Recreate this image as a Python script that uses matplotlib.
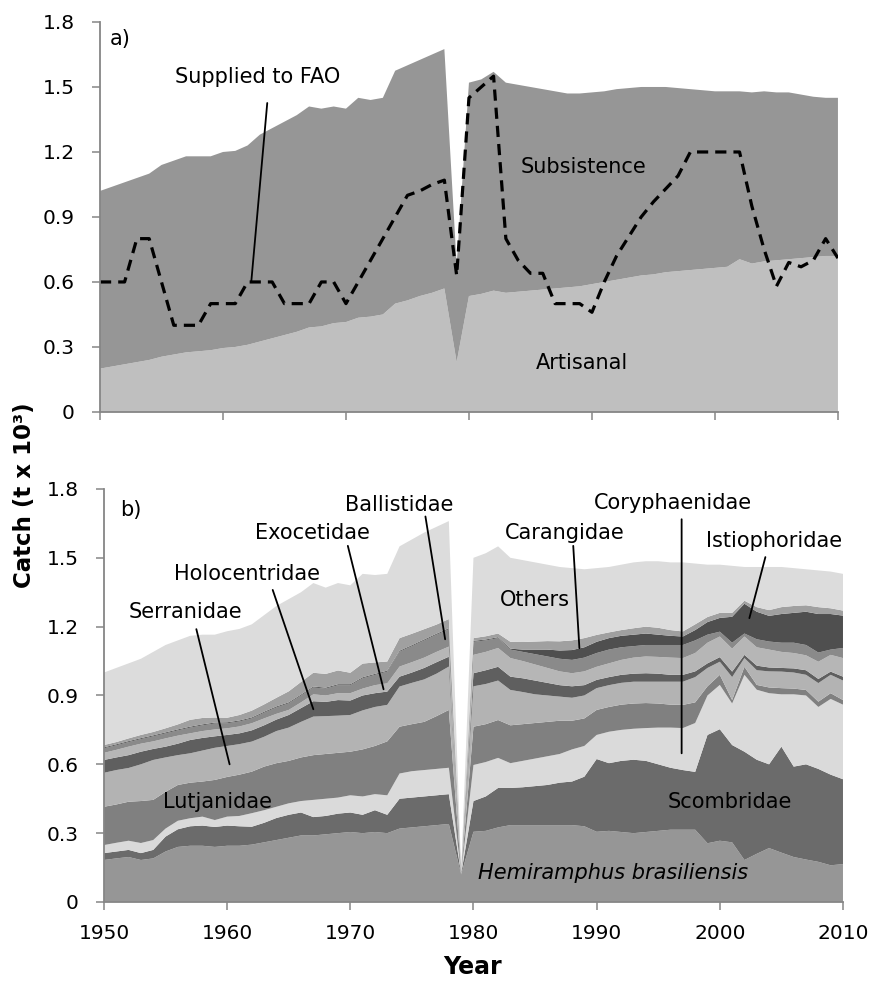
import matplotlib.pyplot as plt

plt.rcParams['font.family'] = ['DejaVu Sans']

years = list(range(1950, 2011))

# a) reconstructed catch by sector (t x 10^3)
artisanal = [0.20, 0.21, 0.22, 0.23, 0.24, 0.255, 0.265, 0.275, 0.28, 0.285,
             0.295, 0.30, 0.31, 0.325, 0.34, 0.355, 0.37, 0.39, 0.395, 0.41,
             0.415, 0.435, 0.44, 0.45, 0.50, 0.515, 0.535, 0.55, 0.57, 0.23,
             0.535, 0.545, 0.56, 0.55, 0.555, 0.56, 0.565, 0.57, 0.575, 0.58,
             0.59, 0.60, 0.61, 0.62, 0.63, 0.635, 0.645, 0.65, 0.655, 0.66,
             0.665, 0.67, 0.705, 0.685, 0.695, 0.70, 0.705, 0.71, 0.715, 0.72,
             0.72]
subsistence = [0.82, 0.83, 0.84, 0.85, 0.86, 0.885, 0.895, 0.905, 0.90, 0.895,
               0.905, 0.905, 0.92, 0.955, 0.97, 0.985, 1.00, 1.02, 1.005, 1.00,
               0.985, 1.015, 1.00, 1.00, 1.075, 1.085, 1.09, 1.10, 1.105, 0.45,
               0.985, 0.99, 1.01, 0.97, 0.955, 0.94, 0.925, 0.91, 0.895, 0.89,
               0.885, 0.88, 0.88, 0.875, 0.87, 0.865, 0.855, 0.845, 0.835, 0.825,
               0.815, 0.81, 0.775, 0.79, 0.785, 0.775, 0.77, 0.755, 0.74, 0.73,
               0.73]
supplied_fao = [0.6, 0.6, 0.6, 0.8, 0.8, 0.6, 0.4, 0.4, 0.4, 0.5,
                0.5, 0.5, 0.6, 0.6, 0.6, 0.5, 0.5, 0.5, 0.6, 0.6,
                0.5, 0.6, 0.7, 0.8, 0.9, 1.0, 1.02, 1.05, 1.07, 0.63,
                1.45, 1.5, 1.55, 0.8, 0.7, 0.64, 0.64, 0.5, 0.5, 0.5,
                0.46, 0.6, 0.72, 0.81, 0.9, 0.97, 1.03, 1.09, 1.2, 1.2,
                1.2, 1.2, 1.2, 0.95, 0.75, 0.58, 0.69, 0.67, 0.70, 0.80,
                0.71]

# b) catch by taxon (t x 10^3)
hemiramphus = [0.183, 0.19, 0.196, 0.183, 0.19, 0.22, 0.24, 0.245, 0.245, 0.24,
               0.245, 0.245, 0.25, 0.26, 0.27, 0.28, 0.29, 0.29, 0.295, 0.30,
               0.305, 0.30, 0.305, 0.30, 0.32, 0.325, 0.33, 0.335, 0.34, 0.12,
               0.306, 0.31, 0.325, 0.335, 0.335, 0.335, 0.335, 0.335, 0.335, 0.33,
               0.306, 0.31, 0.305, 0.30, 0.305, 0.31, 0.315, 0.315, 0.315, 0.256,
               0.267, 0.26, 0.183, 0.21, 0.235, 0.215, 0.196, 0.185, 0.175, 0.16,
               0.165]
scombridae = [0.030, 0.030, 0.031, 0.030, 0.037, 0.065, 0.077, 0.085, 0.088, 0.087,
              0.088, 0.085, 0.078, 0.085, 0.096, 0.10, 0.10, 0.08, 0.08, 0.085,
              0.085, 0.08, 0.095, 0.08, 0.13, 0.13, 0.13, 0.13, 0.13, 0.003,
              0.134, 0.15, 0.172, 0.162, 0.165, 0.17, 0.175, 0.185, 0.19, 0.216,
              0.317, 0.295, 0.31, 0.32, 0.31, 0.29, 0.27, 0.26, 0.252, 0.472,
              0.486, 0.424, 0.472, 0.41, 0.365, 0.462, 0.394, 0.415, 0.405, 0.395,
              0.37]
coryphaenidae = [0.035, 0.038, 0.040, 0.044, 0.043, 0.035, 0.037, 0.035, 0.039, 0.030,
                 0.039, 0.045, 0.059, 0.055, 0.049, 0.05, 0.05, 0.075, 0.075, 0.07,
                 0.075, 0.08, 0.07, 0.085, 0.11, 0.115, 0.115, 0.115, 0.115, 0.003,
                 0.157, 0.15, 0.131, 0.108, 0.115, 0.12, 0.125, 0.125, 0.14, 0.134,
                 0.105, 0.137, 0.135, 0.135, 0.143, 0.16, 0.175, 0.183, 0.213, 0.172,
                 0.193, 0.181, 0.335, 0.305, 0.31, 0.228, 0.315, 0.30, 0.27, 0.33,
                 0.325]
lutjanidae = [0.167, 0.167, 0.170, 0.183, 0.175, 0.16, 0.156, 0.155, 0.153, 0.175,
              0.173, 0.18, 0.181, 0.19, 0.19, 0.185, 0.19, 0.195, 0.195, 0.195,
              0.19, 0.205, 0.21, 0.235, 0.204, 0.205, 0.21, 0.23, 0.252, 0.002,
              0.167, 0.165, 0.165, 0.165, 0.16, 0.155, 0.15, 0.145, 0.125, 0.12,
              0.109, 0.108, 0.11, 0.11, 0.109, 0.105, 0.10, 0.101, 0.09, 0.04,
              0.044, 0.015, 0.035, 0.021, 0.025, 0.027, 0.025, 0.024, 0.023, 0.025,
              0.02]
serranidae = [0.148, 0.15, 0.147, 0.16, 0.174, 0.15, 0.13, 0.128, 0.135, 0.14,
              0.135, 0.133, 0.131, 0.13, 0.14, 0.145, 0.155, 0.168, 0.165, 0.162,
              0.16, 0.17, 0.17, 0.159, 0.175, 0.18, 0.185, 0.185, 0.189, 0.002,
              0.176, 0.175, 0.172, 0.154, 0.14, 0.125, 0.115, 0.105, 0.10, 0.10,
              0.095, 0.095, 0.095, 0.095, 0.093, 0.095, 0.10, 0.101, 0.11, 0.08,
              0.057, 0.10, 0.038, 0.064, 0.07, 0.072, 0.07, 0.066, 0.081, 0.08,
              0.085]
holocentridae = [0.056, 0.055, 0.056, 0.055, 0.048, 0.047, 0.05, 0.058, 0.055, 0.05,
                 0.048, 0.047, 0.049, 0.05, 0.05, 0.055, 0.06, 0.067, 0.062, 0.068,
                 0.063, 0.065, 0.06, 0.058, 0.043, 0.045, 0.05, 0.05, 0.043, 0.001,
                 0.057, 0.06, 0.06, 0.058, 0.06, 0.06, 0.055, 0.05, 0.05, 0.045,
                 0.036, 0.035, 0.035, 0.035, 0.037, 0.035, 0.03, 0.03, 0.025, 0.02,
                 0.02, 0.024, 0.014, 0.02, 0.017, 0.016, 0.018, 0.02, 0.018, 0.014,
                 0.017]
exocetidae = [0.031, 0.033, 0.037, 0.035, 0.033, 0.036, 0.035, 0.029, 0.03, 0.03,
              0.029, 0.03, 0.031, 0.03, 0.025, 0.022, 0.025, 0.03, 0.028, 0.03,
              0.032, 0.03, 0.035, 0.036, 0.044, 0.045, 0.045, 0.045, 0.044, 0.001,
              0.08, 0.08, 0.082, 0.081, 0.075, 0.07, 0.065, 0.06, 0.057, 0.06,
              0.057, 0.06, 0.065, 0.07, 0.073, 0.073, 0.075, 0.073, 0.08, 0.09,
              0.09, 0.10, 0.08, 0.08, 0.078, 0.07, 0.067, 0.065, 0.075, 0.073,
              0.081]
ballistidae = [0.02, 0.02, 0.02, 0.02, 0.022, 0.022, 0.023, 0.025, 0.025, 0.026,
               0.022, 0.022, 0.021, 0.025, 0.028, 0.029, 0.03, 0.03, 0.03, 0.035,
               0.035, 0.045, 0.045, 0.051, 0.065, 0.07, 0.075, 0.075, 0.076, 0.001,
               0.057, 0.05, 0.043, 0.037, 0.04, 0.045, 0.05, 0.055, 0.058, 0.06,
               0.06, 0.06, 0.055, 0.05, 0.05, 0.052, 0.055, 0.057, 0.055, 0.035,
               0.021, 0.026, 0.013, 0.035, 0.035, 0.04, 0.045, 0.045, 0.04, 0.023,
               0.044]
istiophoridae = [0.004, 0.004, 0.004, 0.004, 0.004, 0.004, 0.004, 0.004, 0.004, 0.004,
                 0.004, 0.004, 0.004, 0.004, 0.004, 0.004, 0.004, 0.004, 0.004, 0.004,
                 0.004, 0.004, 0.004, 0.004, 0.004, 0.004, 0.004, 0.004, 0.004, 0.0005,
                 0.004, 0.004, 0.004, 0.004, 0.01, 0.02, 0.03, 0.036, 0.043, 0.045,
                 0.049, 0.05, 0.05, 0.05, 0.05, 0.045, 0.04, 0.037, 0.045, 0.055,
                 0.06, 0.113, 0.13, 0.12, 0.112, 0.125, 0.13, 0.145, 0.168, 0.155,
                 0.141]
carangidae = [0.01, 0.01, 0.012, 0.014, 0.015, 0.018, 0.022, 0.03, 0.028, 0.022,
              0.02, 0.024, 0.03, 0.032, 0.038, 0.048, 0.055, 0.06, 0.06, 0.06,
              0.05, 0.06, 0.05, 0.04, 0.055, 0.05, 0.045, 0.04, 0.04, 0.001,
              0.012, 0.014, 0.016, 0.03, 0.033, 0.035, 0.037, 0.04, 0.042, 0.04,
              0.03, 0.025, 0.025, 0.028, 0.03, 0.03, 0.025, 0.022, 0.025, 0.022,
              0.022, 0.017, 0.013, 0.02, 0.025, 0.03, 0.03, 0.028, 0.03, 0.025,
              0.022]
others = [0.316, 0.323, 0.327, 0.332, 0.349, 0.363, 0.366, 0.366, 0.363, 0.361,
          0.377, 0.375, 0.376, 0.389, 0.40, 0.402, 0.391, 0.391, 0.376, 0.381,
          0.381, 0.391, 0.381, 0.382, 0.40, 0.411, 0.421, 0.426, 0.427, 0.006,
          0.35, 0.362, 0.38, 0.366, 0.357, 0.345, 0.333, 0.324, 0.315, 0.30,
          0.291, 0.285, 0.285, 0.287, 0.285, 0.29, 0.295, 0.301, 0.265, 0.228,
          0.21, 0.205, 0.147, 0.175, 0.188, 0.175, 0.165, 0.157, 0.16, 0.16,
          0.16]

y_ticks = [0, 0.3, 0.6, 0.9, 1.2, 1.5, 1.8]
y_labels = ['0', '0.3', '0.6', '0.9', '1.2', '1.5', '1.8']
x_ticks = [1950, 1960, 1970, 1980, 1990, 2000, 2010]

axis_grey = '#868686'
fs = 14.5   # tick labels
lfs = 15    # in-plot labels

fig = plt.figure(figsize=(8.84, 9.86), dpi=100)
ax1 = fig.add_axes([0.1131, 0.5822, 0.8348, 0.3955])
ax2 = fig.add_axes([0.1176, 0.0852, 0.836, 0.4189])


def style(ax):
    for side in ['top', 'right']:
        ax.spines[side].set_visible(False)
    for side in ['left', 'bottom']:
        ax.spines[side].set_color(axis_grey)
        ax.spines[side].set_linewidth(1.3)
    ax.set_xlim(1950, 2010)
    ax.set_ylim(0, 1.8)
    ax.set_xticks(x_ticks)
    ax.set_yticks(y_ticks)
    ax.set_yticklabels(y_labels)
    ax.tick_params(axis='both', direction='out', length=6, width=1.1,
                   color=axis_grey, labelsize=fs)
    ax.tick_params(axis='y', pad=12)
    ax.tick_params(axis='x', pad=10)


def pointer(ax, start, end):
    ax.annotate('', xy=end, xytext=start,
                arrowprops=dict(arrowstyle='-', color='black', lw=1.3,
                                shrinkA=0, shrinkB=0))


# panel a
ax1.stackplot(years, artisanal, subsistence,
              colors=['#bfbfbf', '#969696'], linewidth=0)
ax1.plot(years, supplied_fao, color='black', lw=2.3, dashes=(3.5, 2.2))
style(ax1)
ax1.tick_params(axis='x', labelbottom=False)

ax1.text(1950.8, 1.72, 'a)', fontsize=lfs, va='center')
ax1.text(1962.8, 1.546, 'Supplied to FAO', fontsize=lfs, ha='center', va='center')
pointer(ax1, (1963.6, 1.426), (1962.3, 0.60))
ax1.text(1989.3, 1.13, 'Subsistence', fontsize=lfs, ha='center', va='center')
ax1.text(1989.2, 0.226, 'Artisanal', fontsize=lfs, ha='center', va='center')

# panel b
layers = [hemiramphus, scombridae, coryphaenidae, lutjanidae, serranidae,
          holocentridae, exocetidae, ballistidae, istiophoridae, carangidae,
          others]
layer_colors = ['#969696', '#6b6b6b', '#dadada', '#808080', '#b3b3b3',
                '#5f5f5f', '#b6b6b6', '#8a8a8a', '#4f4f4f', '#a0a0a0',
                '#dcdcdc']
ax2.stackplot(years, *layers, colors=layer_colors, linewidth=0)
style(ax2)

ax2.text(1951.3, 1.71, 'b)', fontsize=lfs, va='center')

labels_b = [
    ('Ballistidae', (1974.0, 1.73), (1976.1, 1.68), (1977.7, 1.145)),
    ('Exocetidae', (1966.9, 1.61), (1969.8, 1.552), (1972.7, 0.927)),
    ('Holocentridae', (1961.6, 1.43), (1963.7, 1.36), (1967.0, 0.84)),
    ('Serranidae', (1956.6, 1.265), (1957.5, 1.189), (1960.2, 0.60)),
    ('Carangidae', (1987.4, 1.61), (1988.1, 1.552), (1988.6, 1.106)),
    ('Coryphaenidae', (1996.2, 1.74), (1996.9, 1.668), (1996.9, 0.648)),
    ('Istiophoridae', (2004.4, 1.574), (2003.7, 1.503), (2002.4, 1.237)),
]
for name, pos, start, end in labels_b:
    ax2.text(pos[0], pos[1], name, fontsize=lfs, ha='center', va='center')
    pointer(ax2, start, end)

ax2.text(1959.2, 0.436, 'Lutjanidae', fontsize=lfs, ha='center', va='center')
ax2.text(1985.0, 1.316, 'Others', fontsize=lfs, ha='center', va='center')
ax2.text(2000.8, 0.436, 'Scombridae', fontsize=lfs, ha='center', va='center')
ax2.text(2002.3, 0.126, 'Hemiramphus brasiliensis', fontsize=lfs,
         style='italic', ha='right', va='center')

fig.text(0.028, 0.498, 'Catch (t x 10³)', rotation=90, fontsize=16.5,
         fontweight='bold', ha='center', va='center')
fig.text(0.535, 0.019, 'Year', fontsize=17, fontweight='bold',
         ha='center', va='center')

plt.savefig('out.png', dpi=100)
